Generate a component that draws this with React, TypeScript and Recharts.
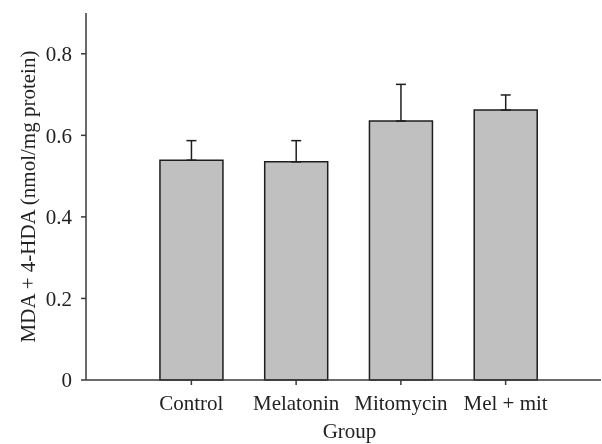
import React from "react";
import { BarChart, Bar, XAxis, YAxis, ErrorBar } from "recharts";

const groups = ["Control", "Melatonin", "Mitomycin", "Mel + mit"];
const means = [0.539, 0.535, 0.635, 0.662];
const upperErrors = [0.048, 0.052, 0.09, 0.037];
const yTicks = [0, 0.2, 0.4, 0.6, 0.8];

const data = groups.map((g, i) => ({
  group: g,
  value: means[i],
  err: [0, upperErrors[i]],
}));

const FONT = "'Liberation Serif', 'DejaVu Serif', serif";
const AXIS = "#3a3a3a";

export default function App() {
  return (
    <div style={{ position: "fixed", left: 0, top: 0 }}>
      <BarChart
        width={602}
        height={444}
        data={data}
        margin={{ top: 13, right: 1, bottom: 0, left: 0 }}
        barCategoryGap="20%"
      >
        <XAxis
          dataKey="group"
          height={64}
          padding={{ left: 53, right: 43 }}
          stroke={AXIS}
          strokeWidth={1.5}
          tickSize={5}
          tickMargin={10}
          tick={{ fill: "#222", fontSize: 21, fontFamily: FONT }}
          interval={0}
          label={{
            value: "Group",
            position: "insideBottom",
            offset: 6,
            dx: 6,
            fill: "#222",
            fontSize: 21,
            fontFamily: FONT,
          }}
        />
        <YAxis
          width={86}
          domain={[0, 0.9]}
          ticks={yTicks}
          stroke={AXIS}
          strokeWidth={1.5}
          tickSize={5}
          tickMargin={9}
          tick={{ fill: "#222", fontSize: 21, fontFamily: FONT }}
          label={{
            value: "MDA + 4-HDA (nmol/mg protein)",
            angle: -90,
            position: "center",
            dx: -15,
            fill: "#222",
            fontSize: 21,
            fontFamily: FONT,
          }}
        />
        <Bar
          dataKey="value"
          fill="#c0c0c0"
          stroke="#1e1e1e"
          strokeWidth={1.5}
          isAnimationActive={false}
        >
          <ErrorBar
            dataKey="err"
            width={5}
            stroke="#1e1e1e"
            strokeWidth={1.5}
            isAnimationActive={false}
          />
        </Bar>
      </BarChart>
    </div>
  );
}
